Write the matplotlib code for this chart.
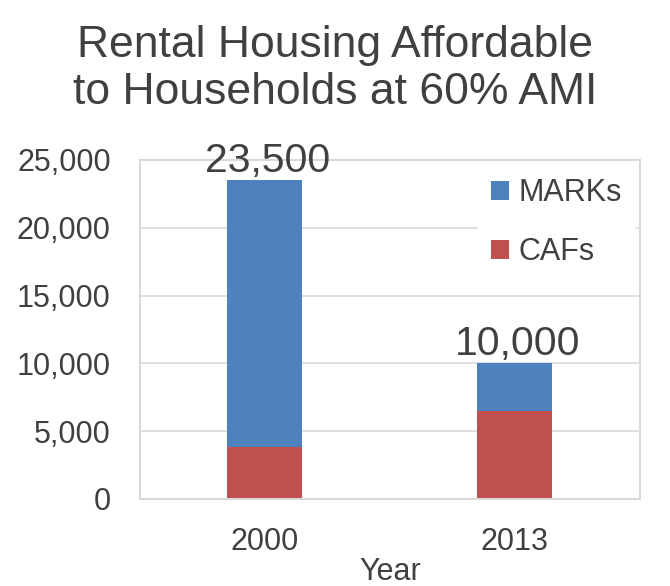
import matplotlib.pyplot as plt
import numpy as np

years = ["2000", "2013"]
cafs = [3800, 6500]
marks = [19700, 3500]
totals = [23500, 10000]
yticks = [0, 5000, 10000, 15000, 20000, 25000]

blue = "#4F81BD"
red = "#C0504D"
text_color = "#404040"
grid_color = "#d9d9d9"

plt.rcParams['font.family'] = ['Liberation Sans', 'DejaVu Sans']

fig = plt.figure(figsize=(6.7, 5.86), dpi=100)
ax = fig.add_axes([0.209, 0.1485, 0.746, 0.5785])

x = np.arange(len(years))
ax.bar(x, cafs, width=0.3, color=red, label="CAFs", zorder=2)
ax.bar(x, marks, width=0.3, bottom=cafs, color=blue, label="MARKs", zorder=2)

for xi, t in zip(x, totals):
    ax.annotate(f"{t:,}", (xi, t), xytext=(2, 0), textcoords="offset points",
                ha="center", va="bottom", fontsize=29.5, color=text_color, zorder=5)

ax.set_xlim(-0.5, 1.5)
ax.set_ylim(0, 25000)
ax.set_xticks(x)
ax.set_xticklabels(years)
ax.set_yticks(yticks)
ax.set_yticklabels([f"{v:,}" for v in yticks])
ax.tick_params(length=0, labelsize=22, colors=text_color)
ax.tick_params(axis="y", pad=21)
ax.tick_params(axis="x", pad=20)
ax.yaxis.grid(True, color=grid_color, linewidth=1.2, zorder=0)
ax.set_axisbelow(True)
for s in ax.spines.values():
    s.set_color(grid_color)
    s.set_linewidth(1.5)

ax.set_xlabel("Year", fontsize=22, color=text_color, labelpad=0)
fig.suptitle("Rental Housing Affordable\nto Households at 60% AMI",
             fontsize=32, color=text_color, y=0.958, linespacing=1.2)

h, l = ax.get_legend_handles_labels()
leg = ax.legend(h[::-1], l[::-1], loc="upper right", fontsize=22, frameon=True,
                handlelength=0.6, handleheight=0.6, handletextpad=0.3,
                labelspacing=0.95, borderaxespad=0.2, labelcolor=text_color)
leg.get_frame().set_edgecolor("white")
leg.get_frame().set_facecolor("white")
leg.get_frame().set_alpha(1)
leg.set_zorder(4)

fig.savefig("out.png", dpi=100)
